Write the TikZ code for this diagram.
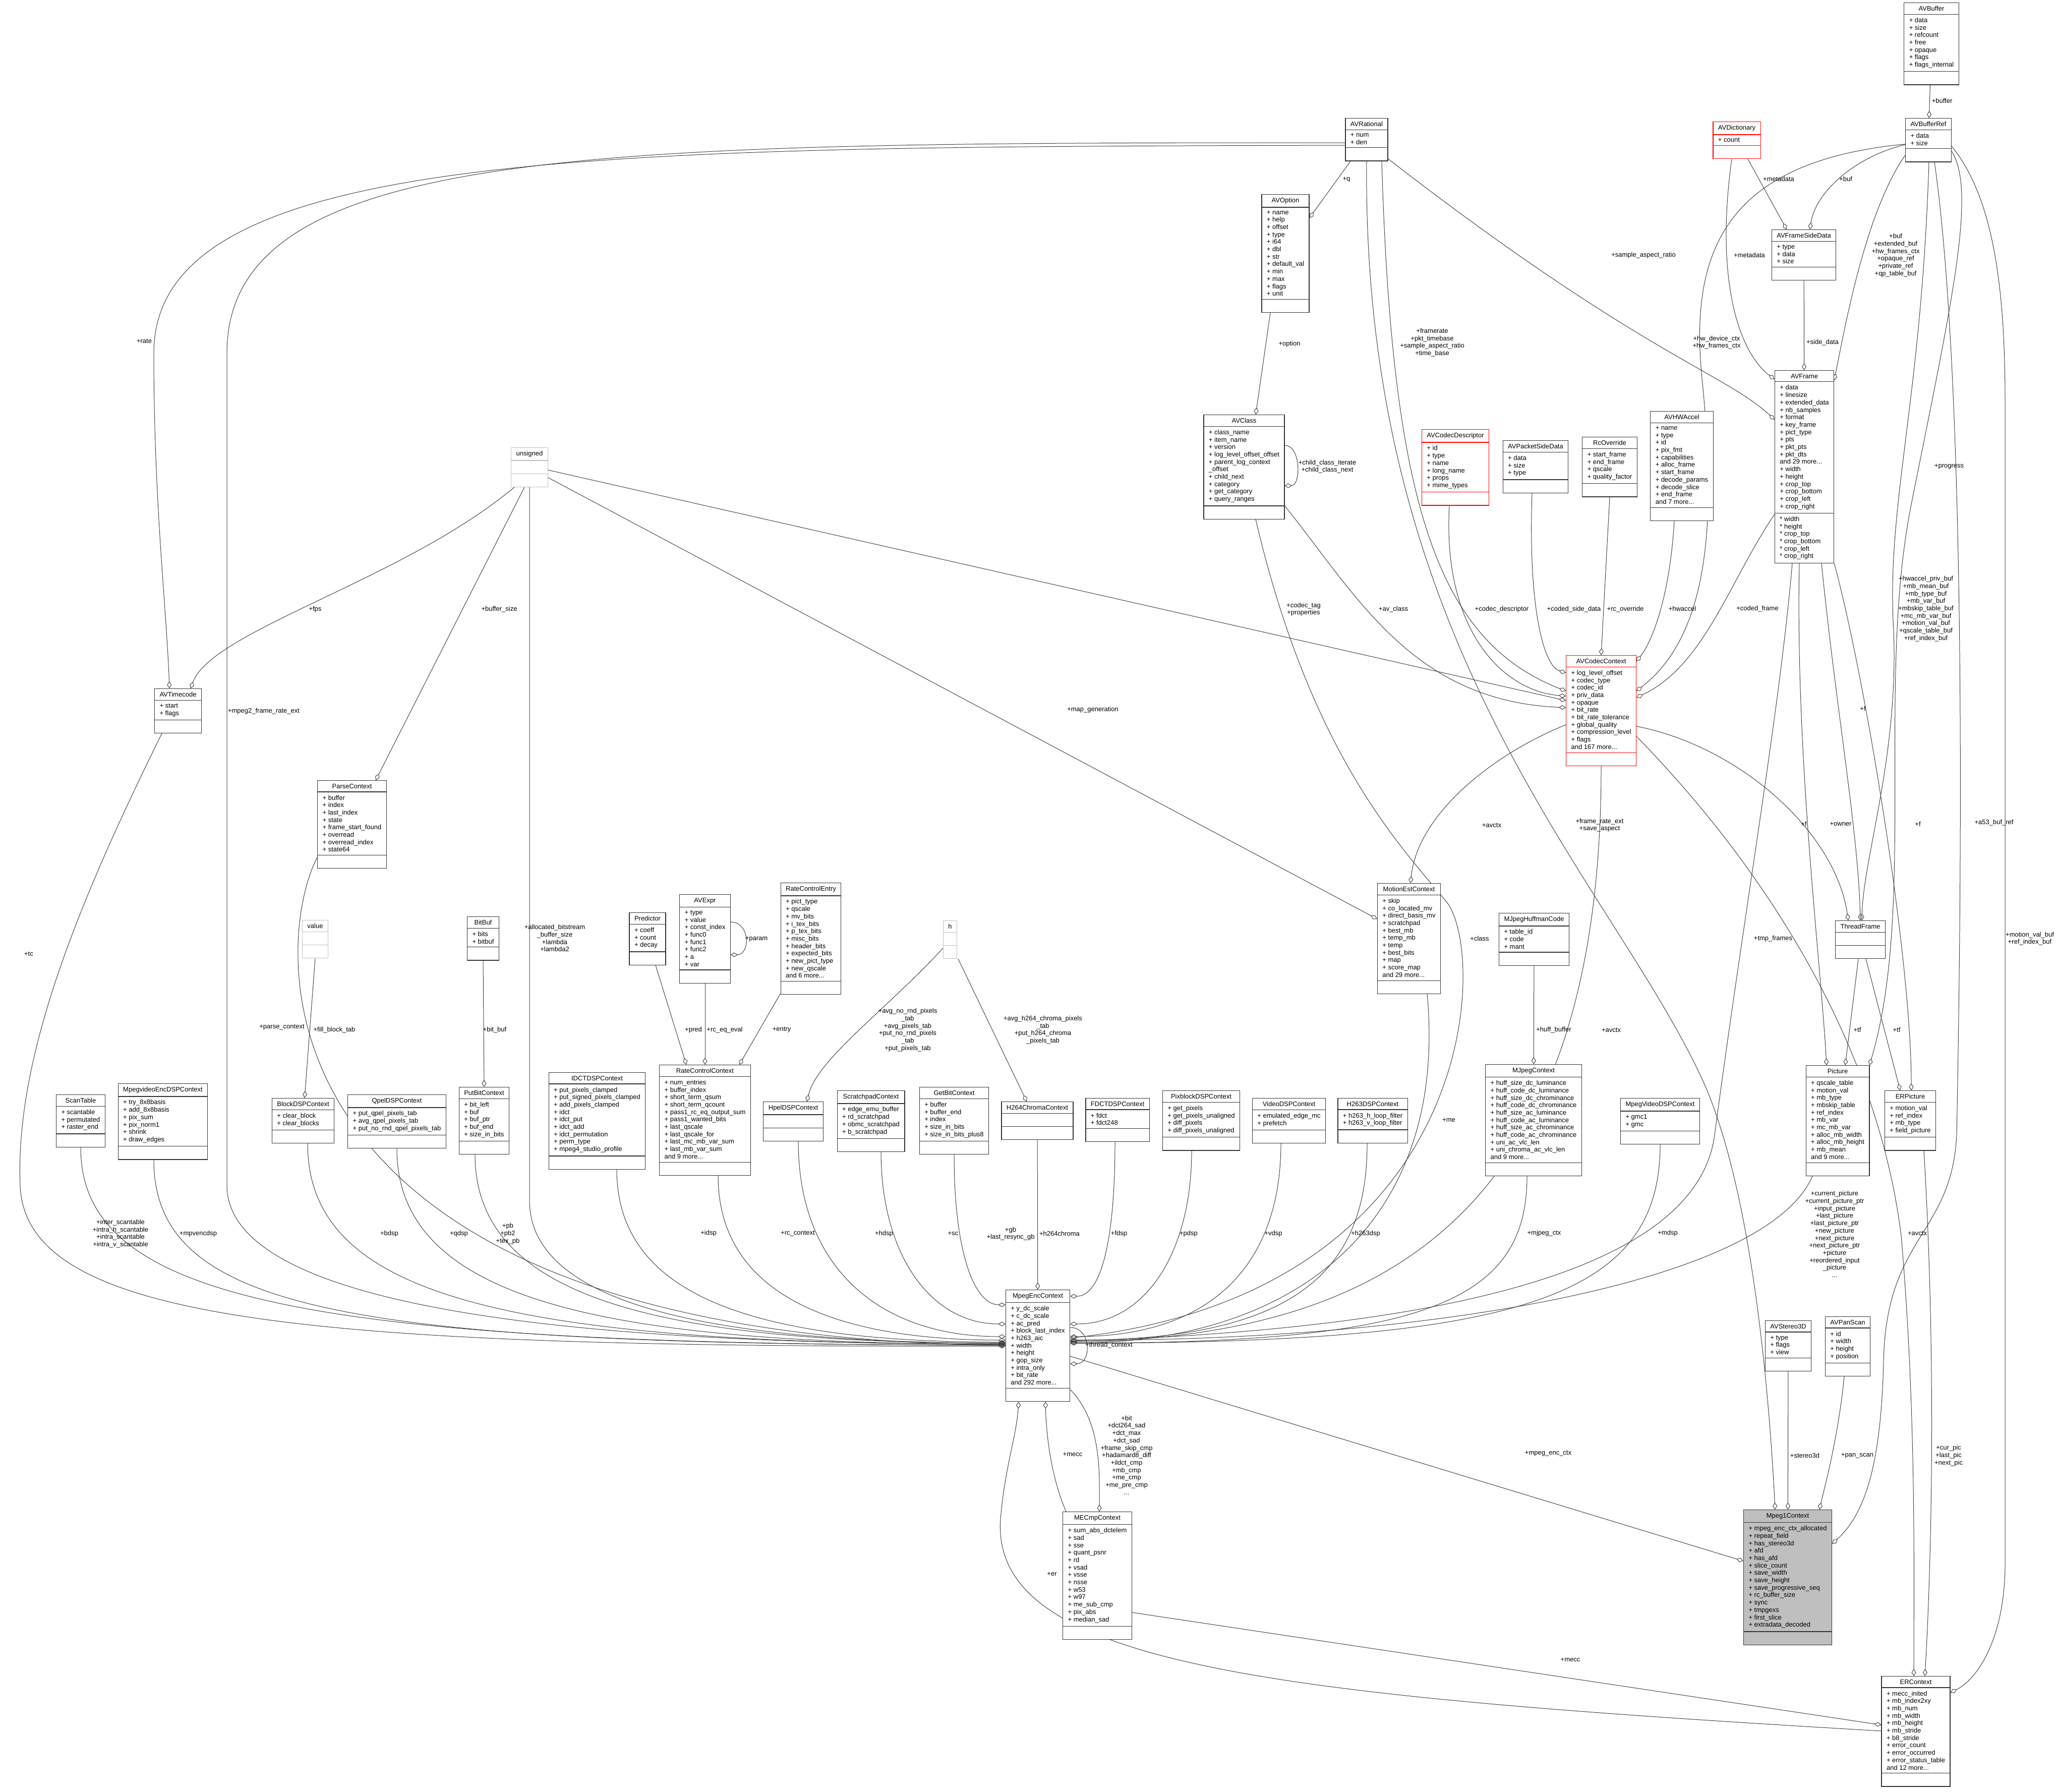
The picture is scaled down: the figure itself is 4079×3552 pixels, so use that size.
\documentclass[tikz,border=0pt]{standalone}
\usepackage{fontspec}
\setmainfont{Liberation Sans}
\usetikzlibrary{arrows.meta, shapes.multipart}
\pgfdeclarelayer{background}
\pgfsetlayers{background,main}
\newcommand{\umlfont}{\fontsize{13}{14.7}\selectfont}
\tikzset{
  cls/.style={rectangle split, rectangle split parts=3,
    rectangle split part align={center,left,left},
    rectangle split empty part height=10pt,
    rectangle split empty part depth=3pt,
    draw=black!80, line width=1.2pt, fill=white, align=left,
    inner xsep=10pt, inner ysep=6pt, font=\umlfont, anchor=north},
  redcls/.style={cls, draw=red},
  extcls/.style={cls, draw=black!25},
  maincls/.style={cls, fill=black!25},
  agg/.style={draw=black!75, line width=1pt,
    -{Diamond[open, length=14pt, width=9pt]}},
  lbl/.style={font=\umlfont, align=center, inner sep=0pt},
}

\begin{document}
\begin{tikzpicture}[x=1pt, y=-1pt]
    \useasboundingbox (0,0) rectangle (4079,3552);

    % buffers and frames
    \node[cls] (avbuffer) at (3830,5) {AVBuffer
        \nodepart{two} + data\\+ size\\+ refcount\\+ free\\+ opaque\\+ flags\\+ flags\_internal
        \nodepart{three}};
    \node[cls] (avbufferref) at (3824,234) {AVBufferRef
        \nodepart{two} + data\\+ size
        \nodepart{three}};
    \node[redcls] (avdict) at (3444,241) {AVDictionary
        \nodepart{two} + count
        \nodepart{three}};
    \node[cls] (sidedata) at (3577,455) {AVFrameSideData
        \nodepart{two} + type\\+ data\\+ size
        \nodepart{three}};
    \node[cls] (avframe) at (3578,734) {AVFrame
        \nodepart{two} + data\\+ linesize\\+ extended\_data\\+ nb\_samples\\+ format\\+ key\_frame\\+ pict\_type\\+ pts\\+ pkt\_pts\\+ pkt\_dts\\and 29 more...\\+ width\\+ height\\+ crop\_top\\+ crop\_bottom\\+ crop\_left\\+ crop\_right
        \nodepart{three} * width\\* height\\* crop\_top\\* crop\_bottom\\* crop\_left\\* crop\_right};

    % codec context and its parts
    \node[cls] (avrational) at (2710,234) {AVRational
        \nodepart{two} + num\\+ den
        \nodepart{three}};
    \node[cls] (avoption) at (2549,385) {AVOption
        \nodepart{two} + name\\+ help\\+ offset\\+ type\\+ i64\\+ dbl\\+ str\\+ default\_val\\+ min\\+ max\\+ flags\\+ unit
        \nodepart{three}};
    \node[cls] (avclass) at (2467,822) {AVClass
        \nodepart{two} + class\_name\\+ item\_name\\+ version\\+ log\_level\_offset\_offset\\+ parent\_log\_context\\\_offset\\+ child\_next\\+ category\\+ get\_category\\+ query\_ranges
        \nodepart{three}};
    \node[redcls] (codecdesc) at (2886,851) {AVCodecDescriptor
        \nodepart{two} + id\\+ type\\+ name\\+ long\_name\\+ props\\+ mime\_types
        \nodepart{three}};
    \node[cls] (pktsidedata) at (3045,873) {AVPacketSideData
        \nodepart{two} + data\\+ size\\+ type
        \nodepart{three}};
    \node[cls] (rcoverride) at (3192,866) {RcOverride
        \nodepart{two} + start\_frame\\+ end\_frame\\+ qscale\\+ quality\_factor
        \nodepart{three}};
    \node[cls] (hwaccel) at (3335,815) {AVHWAccel
        \nodepart{two} + name\\+ type\\+ id\\+ pix\_fmt\\+ capabilities\\+ alloc\_frame\\+ start\_frame\\+ decode\_params\\+ decode\_slice\\+ end\_frame\\and 7 more...
        \nodepart{three}};
    \node[redcls] (codecctx) at (3175,1299) {AVCodecContext
        \nodepart{two} + log\_level\_offset\\+ codec\_type\\+ codec\_id\\+ priv\_data\\+ opaque\\+ bit\_rate\\+ bit\_rate\_tolerance\\+ global\_quality\\+ compression\_level\\+ flags\\and 167 more...
        \nodepart{three}};

    % left half
    \node[extcls] (unsigned) at (1050,887) {unsigned \nodepart{two} \nodepart{three}};
    \node[cls] (avtimecode) at (353,1365) {AVTimecode
        \nodepart{two} + start\\+ flags
        \nodepart{three}};
    \node[cls] (parsectx) at (698,1547) {ParseContext
        \nodepart{two} + buffer\\+ index\\+ last\_index\\+ state\\+ frame\_start\_found\\+ overread\\+ overread\_index\\+ state64
        \nodepart{three}};
    \node[extcls] (value) at (625,1824) {value \nodepart{two} \nodepart{three}};
    \node[cls] (bitbuf) at (958,1817) {BitBuf
        \nodepart{two} + bits\\+ bitbuf
        \nodepart{three}};
    \node[cls] (predictor) at (1284,1809) {Predictor
        \nodepart{two} + coeff\\+ count\\+ decay
        \nodepart{three}};
    \node[cls] (avexpr) at (1398,1773) {AVExpr
        \nodepart{two} + type\\+ value\\+ const\_index\\+ func0\\+ func1\\+ func2\\+ a\\+ var
        \nodepart{three}};
    \node[cls] (rcentry) at (1608,1750) {RateControlEntry
        \nodepart{two} + pict\_type\\+ qscale\\+ mv\_bits\\+ i\_tex\_bits\\+ p\_tex\_bits\\+ misc\_bits\\+ header\_bits\\+ expected\_bits\\+ new\_pict\_type\\+ new\_qscale\\and 6 more...
        \nodepart{three}};
    \node[extcls] (h) at (1884,1825) {h \nodepart{two} \nodepart{three}};
    \node[cls] (rcctx) at (1398,2111) {RateControlContext
        \nodepart{two} + num\_entries\\+ buffer\_index\\+ short\_term\_qsum\\+ short\_term\_qcount\\+ pass1\_rc\_eq\_output\_sum\\+ pass1\_wanted\_bits\\+ last\_qscale\\+ last\_qscale\_for\\+ last\_mc\_mb\_var\_sum\\+ last\_mb\_var\_sum\\and 9 more...
        \nodepart{three}};
    \node[cls] (motionest) at (2794,1751) {MotionEstContext
        \nodepart{two} + skip\\+ co\_located\_mv\\+ direct\_basis\_mv\\+ scratchpad\\+ best\_mb\\+ temp\_mb\\+ temp\\+ best\_bits\\+ map\\+ score\_map\\and 29 more...
        \nodepart{three}};
    \node[cls] (huffcode) at (3042,1810) {MJpegHuffmanCode
        \nodepart{two} + table\_id\\+ code\\+ mant
        \nodepart{three}};

    % row of dsp contexts
    \node[cls] (scantable) at (160,2170) {ScanTable
        \nodepart{two} + scantable\\+ permutated\\+ raster\_end
        \nodepart{three}};
    \node[cls] (mpvencdsp) at (323,2148) {MpegvideoEncDSPContext
        \nodepart{two} + try\_8x8basis\\+ add\_8x8basis\\+ pix\_sum\\+ pix\_norm1\\+ shrink\\+ draw\_edges
        \nodepart{three}};
    \node[cls] (blockdsp) at (601,2177) {BlockDSPContext
        \nodepart{two} + clear\_block\\+ clear\_blocks
        \nodepart{three}};
    \node[cls] (qpeldsp) at (787,2170) {QpelDSPContext
        \nodepart{two} + put\_qpel\_pixels\_tab\\+ avg\_qpel\_pixels\_tab\\+ put\_no\_rnd\_qpel\_pixels\_tab
        \nodepart{three}};
    \node[cls] (putbit) at (960,2155) {PutBitContext
        \nodepart{two} + bit\_left\\+ buf\\+ buf\_ptr\\+ buf\_end\\+ size\_in\_bits
        \nodepart{three}};
    \node[cls] (idctdsp) at (1184,2126) {IDCTDSPContext
        \nodepart{two} + put\_pixels\_clamped\\+ put\_signed\_pixels\_clamped\\+ add\_pixels\_clamped\\+ idct\\+ idct\_put\\+ idct\_add\\+ idct\_permutation\\+ perm\_type\\+ mpeg4\_studio\_profile
        \nodepart{three}};
    \node[cls] (hpeldsp) at (1573,2184) {HpelDSPContext \nodepart{two} \nodepart{three}};
    \node[cls] (scratchpad) at (1727,2162) {ScratchpadContext
        \nodepart{two} + edge\_emu\_buffer\\+ rd\_scratchpad\\+ obmc\_scratchpad\\+ b\_scratchpad
        \nodepart{three}};
    \node[cls] (getbit) at (1892,2155) {GetBitContext
        \nodepart{two} + buffer\\+ buffer\_end\\+ index\\+ size\_in\_bits\\+ size\_in\_bits\_plus8
        \nodepart{three}};
    \node[cls] (h264chroma) at (2057,2184) {H264ChromaContext \nodepart{two} \nodepart{three}};
    \node[cls] (fdctdsp) at (2216,2177) {FDCTDSPContext
        \nodepart{two} + fdct\\+ fdct248
        \nodepart{three}};
    \node[cls] (pixblockdsp) at (2382,2162) {PixblockDSPContext
        \nodepart{two} + get\_pixels\\+ get\_pixels\_unaligned\\+ diff\_pixels\\+ diff\_pixels\_unaligned
        \nodepart{three}};
    \node[cls] (videodsp) at (2556,2177) {VideoDSPContext
        \nodepart{two} + emulated\_edge\_mc\\+ prefetch
        \nodepart{three}};
    \node[cls] (h263dsp) at (2722,2177) {H263DSPContext
        \nodepart{two} + h263\_h\_loop\_filter\\+ h263\_v\_loop\_filter
        \nodepart{three}};
    \node[cls] (mjpeg) at (3041,2110) {MJpegContext
        \nodepart{two} + huff\_size\_dc\_luminance\\+ huff\_code\_dc\_luminance\\+ huff\_size\_dc\_chrominance\\+ huff\_code\_dc\_chrominance\\+ huff\_size\_ac\_luminance\\+ huff\_code\_ac\_luminance\\+ huff\_size\_ac\_chrominance\\+ huff\_code\_ac\_chrominance\\+ uni\_ac\_vlc\_len\\+ uni\_chroma\_ac\_vlc\_len\\and 9 more...
        \nodepart{three}};
    \node[cls] (mpegvideodsp) at (3292,2177) {MpegVideoDSPContext
        \nodepart{two} + gmc1\\+ gmc
        \nodepart{three}};
    \node[cls] (threadframe) at (3689,1825) {ThreadFrame \nodepart{two} \nodepart{three}};
    \node[cls] (picture) at (3644,2112) {Picture
        \nodepart{two} + qscale\_table\\+ motion\_val\\+ mb\_type\\+ mbskip\_table\\+ ref\_index\\+ mb\_var\\+ mc\_mb\_var\\+ alloc\_mb\_width\\+ alloc\_mb\_height\\+ mb\_mean\\and 9 more...
        \nodepart{three}};
    \node[cls] (erpicture) at (3788,2162) {ERPicture
        \nodepart{two} + motion\_val\\+ ref\_index\\+ mb\_type\\+ field\_picture
        \nodepart{three}};

    % encoder
    \node[cls] (mpegenc) at (2058,2557) {MpegEncContext
        \nodepart{two} + y\_dc\_scale\\+ c\_dc\_scale\\+ ac\_pred\\+ block\_last\_index\\+ h263\_aic\\+ width\\+ height\\+ gop\_size\\+ intra\_only\\+ bit\_rate\\and 292 more...
        \nodepart{three}};
    \node[cls] (mecmp) at (2176,2997) {MECmpContext
        \nodepart{two} + sum\_abs\_dctelem\\+ sad\\+ sse\\+ quant\_psnr\\+ rd\\+ vsad\\+ vsse\\+ nsse\\+ w53\\+ w97\\+ me\_sub\_cmp\\+ pix\_abs\\+ median\_sad
        \nodepart{three}};
    \node[cls] (stereo3d) at (3546,2618) {AVStereo3D
        \nodepart{two} + type\\+ flags\\+ view
        \nodepart{three}};
    \node[cls] (panscan) at (3664,2610) {AVPanScan
        \nodepart{two} + id\\+ width\\+ height\\+ position
        \nodepart{three}};
    \node[maincls] (mpeg1) at (3545,2993) {Mpeg1Context
        \nodepart{two} + mpeg\_enc\_ctx\_allocated\\+ repeat\_field\\+ has\_stereo3d\\+ afd\\+ has\_afd\\+ slice\_count\\+ save\_width\\+ save\_height\\+ save\_progressive\_seq\\+ rc\_buffer\_size\\+ sync\\+ tmpgexs\\+ first\_slice\\+ extradata\_decoded
        \nodepart{three}};
    \node[cls] (ercontext) at (3799,3323) {ERContext
        \nodepart{two} + mecc\_inited\\+ mb\_index2xy\\+ mb\_num\\+ mb\_width\\+ mb\_height\\+ mb\_stride\\+ b8\_stride\\+ error\_count\\+ error\_occurred\\+ error\_status\_table\\and 12 more...
        \nodepart{three}};

    % labels
    \node[lbl] (l-buffer) at (3851,200) {+buffer};
    \node[lbl] (l-sdmeta) at (3527,355) {+metadata};
    \node[lbl] (l-sdbuf) at (3660,355) {+buf};
    \node[lbl] (l-frmeta) at (3469,506) {+metadata};
    \node[lbl] (l-frbuf) at (3759,506) {+buf\\+extended\_buf\\+hw\_frames\_ctx\\+opaque\_ref\\+private\_ref\\+qp\_table\_buf};
    \node[lbl] (l-sidedata) at (3614,679) {+side\_data};
    \node[lbl] (l-frsar) at (3259,506) {+sample\_aspect\_ratio};
    \node[lbl] (l-q) at (2670,356) {+q};
    \node[lbl] (l-option) at (2557,682) {+option};
    \node[lbl] (l-child) at (2632,925) {+child\_class\_iterate\\+child\_class\_next};
    \node[lbl] (l-avclass) at (2763,1208) {+av\_class};
    \node[lbl] (l-framerate) at (2840,679) {+framerate\\+pkt\_timebase\\+sample\_aspect\_ratio\\+time\_base};
    \node[lbl] (l-fre) at (3172,1636) {+frame\_rate\_ext\\+save\_aspect};
    \node[lbl] (l-codectag) at (2585,1208) {+codec\_tag\\+properties};
    \node[lbl] (l-class) at (2934,1861) {+class};
    \node[lbl] (l-desc) at (2978,1208) {+codec\_descriptor};
    \node[lbl] (l-sided) at (3121,1208) {+coded\_side\_data};
    \node[lbl] (l-rcov) at (3223,1208) {+rc\_override};
    \node[lbl] (l-hwaccel) at (3336,1207) {+hwaccel};
    \node[lbl] (l-coded) at (3485,1207) {+coded\_frame};
    \node[lbl] (l-hwdev) at (3404,679) {+hw\_device\_ctx\\+hw\_frames\_ctx};
    \node[lbl] (l-meavctx) at (2958,1636) {+avctx};
    \node[lbl] (l-avctx) at (3195,2042) {+avctx};
    \node[lbl] (l-owner) at (3650,1634) {+owner};
    \node[lbl] (l-eravctx) at (3802,2445) {+avctx};
    \node[lbl] (l-picf) at (3577,1634) {+f};
    \node[lbl] (l-tff) at (3694,1405) {+f};
    \node[lbl] (l-erf) at (3803,1634) {+f};
    \node[lbl] (l-tmp) at (3516,1861) {+tmp\_frames};
    \node[lbl] (l-progress) at (3865,925) {+progress};
    \node[lbl] (l-picbuf) at (3819,1207) {+hwaccel\_priv\_buf\\+mb\_mean\_buf\\+mb\_type\_buf\\+mb\_var\_buf\\+mbskip\_table\_buf\\+mc\_mb\_var\_buf\\+motion\_val\_buf\\+qscale\_table\_buf\\+ref\_index\_buf};
    \node[lbl] (l-a53) at (3954,1631) {+a53\_buf\_ref};
    \node[lbl] (l-erbuf) at (4025,1861) {+motion\_val\_buf\\+ref\_index\_buf};
    \node[lbl] (l-huff) at (3081,2042) {+huff\_buffer};
    \node[lbl] (l-pictf) at (3683,2042) {+tf};
    \node[lbl] (l-ertf) at (3761,2042) {+tf};
    \node[lbl] (l-curpic) at (3864,2886) {+cur\_pic\\+last\_pic\\+next\_pic};
    \node[lbl] (l-ermecc) at (3114,3291) {+mecc};
    \node[lbl] (l-er) at (2086,3121) {+er};
    \node[lbl] (l-mecc) at (2127,2884) {+mecc};
    \node[lbl] (l-cmp) at (2234,2885) {+bit\\+dct264\_sad\\+dct\_max\\+dct\_sad\\+frame\_skip\_cmp\\+hadamard8\_diff\\+ildct\_cmp\\+mb\_cmp\\+me\_cmp\\+me\_pre\_cmp\\...};
    \node[lbl] (l-mpegctx) at (3070,2882) {+mpeg\_enc\_ctx};
    \node[lbl] (l-thread) at (2199,2667) {+thread\_context};
    \node[lbl] (l-stereo) at (3579,2886) {+stereo3d};
    \node[lbl] (l-panscan) at (3683,2886) {+pan\_scan};
    \node[lbl] (l-pics) at (3638,2447) {+current\_picture\\+current\_picture\_ptr\\+input\_picture\\+last\_picture\\+last\_picture\_ptr\\+new\_picture\\+next\_picture\\+next\_picture\_ptr\\+picture\\+reordered\_input\\\_picture\\...};
    \node[lbl] (l-tc) at (57,1891) {+tc};
    \node[lbl] (l-mpeg2) at (523,1410) {+mpeg2\_frame\_rate\_ext};
    \node[lbl] (l-rate) at (286,676) {+rate};
    \node[lbl] (l-fps) at (625,1208) {+fps};
    \node[lbl] (l-bufsize) at (990,1208) {+buffer\_size};
    \node[lbl] (l-mapgen) at (2167,1407) {+map\_generation};
    \node[lbl] (l-lambda) at (1100,1860) {+allocated\_bitstream\\\_buffer\_size\\+lambda\\+lambda2};
    \node[lbl] (l-parse) at (559,2037) {+parse\_context};
    \node[lbl] (l-fill) at (663,2042) {+fill\_block\_tab};
    \node[lbl] (l-bitbuf) at (981,2042) {+bit\_buf};
    \node[lbl] (l-scan) at (239,2446) {+inter\_scantable\\+intra\_h\_scantable\\+intra\_scantable\\+intra\_v\_scantable};
    \node[lbl] (l-mpvenc) at (393,2446) {+mpvencdsp};
    \node[lbl] (l-bdsp) at (772,2446) {+bdsp};
    \node[lbl] (l-qdsp) at (910,2446) {+qdsp};
    \node[lbl] (l-pb) at (1007,2446) {+pb\\+pb2\\+tex\_pb};
    \node[lbl] (l-idsp) at (1405,2445) {+idsp};
    \node[lbl] (l-rcctx) at (1582,2446) {+rc\_context};
    \node[lbl] (l-hdsp) at (1753,2446) {+hdsp};
    \node[lbl] (l-sc) at (1890,2446) {+sc};
    \node[lbl] (l-gb) at (2004,2446) {+gb\\+last\_resync\_gb};
    \node[lbl] (l-h264) at (2101,2446) {+h264chroma};
    \node[lbl] (l-fdsp) at (2219,2446) {+fdsp};
    \node[lbl] (l-pdsp) at (2357,2446) {+pdsp};
    \node[lbl] (l-vdsp) at (2525,2446) {+vdsp};
    \node[lbl] (l-h263) at (2708,2446) {+h263dsp};
    \node[lbl] (l-me) at (2873,2221) {+me};
    \node[lbl] (l-mjpeg) at (3062,2445) {+mjpeg\_ctx};
    \node[lbl] (l-mdsp) at (3307,2445) {+mdsp};
    \node[lbl] (l-pred) at (1375,2042) {+pred};
    \node[lbl] (l-eval) at (1437,2042) {+rc\_eq\_eval};
    \node[lbl] (l-entry) at (1550,2042) {+entry};
    \node[lbl] (l-param) at (1500,1862) {+param};
    \node[lbl] (l-hpel) at (1800,2042) {+avg\_no\_rnd\_pixels\\\_tab\\+avg\_pixels\_tab\\+put\_no\_rnd\_pixels\\\_tab\\+put\_pixels\_tab};
    \node[lbl] (l-chroma) at (2068,2042) {+avg\_h264\_chroma\_pixels\\\_tab\\+put\_h264\_chroma\\\_pixels\_tab};

    \begin{pgfonlayer}{background}
    \fill[white] (0,0) rectangle (4079,3552);
    % top right
    \draw[agg] (avbuffer) -- (avbufferref);
    \draw[agg] ([xshift=22pt]avdict.south) -- ([xshift=-34pt]sidedata.north);
    \draw[agg] ([yshift=-9pt]avbufferref.west) .. controls (3680,310) and (3600,380) .. ([xshift=12pt]sidedata.north);
    \draw[agg] ([xshift=-10pt]avdict.south) .. controls (3400,560) and (3450,700) .. ([yshift=-18pt]avframe.north west);
    \draw[agg] ([yshift=-30pt]avbufferref.west) .. controls (3700,420) and (3660,640) .. ([yshift=-20pt]avframe.north east);
    \draw[agg] (sidedata) -- (avframe);
    \draw[agg] ([yshift=-81pt]avrational.north east) .. controls (3250,700) and (3420,740) .. ([yshift=-98pt]avframe.north west);
    \draw[agg] ([xshift=-32pt]avrational.south) -- ([yshift=-47pt]avoption.north east);
    \draw[agg] ([xshift=-30pt]avoption.south) -- ([xshift=23pt]avclass.north);
    \draw[agg] ([yshift=-61pt]avclass.north east) .. controls (2580,883) and (2580,963) .. ([yshift=-141pt]avclass.north east);
    % into the codec context
    \draw[agg] ([yshift=-181pt]avclass.north east) .. controls (2690,1180) and (2800,1390) .. ([yshift=-104pt]codecctx.north west);
    \draw[agg] ([xshift=30pt]avrational.south) .. controls (2760,1000) and (2850,1270) .. ([yshift=-71pt]codecctx.north west);
    \draw[agg] ([yshift=-45pt]unsigned.north east) -- ([yshift=-90pt]codecctx.north west);
    \draw[agg] ([xshift=-12pt]codecdesc.south) .. controls (2860,1250) and (2980,1370) .. ([yshift=-81pt]codecctx.north west);
    \draw[agg] ([xshift=-7pt]pktsidedata.south) .. controls (3030,1200) and (3060,1320) .. ([yshift=-35pt]codecctx.north west);
    \draw[agg] (rcoverride.south) -- (codecctx.north);
    \draw[agg] ([xshift=-15pt]hwaccel.south) .. controls (3310,1200) and (3270,1280) .. ([yshift=-12pt]codecctx.north east);
    \draw[agg] ([yshift=-286pt]avframe.north west) .. controls (3430,1150) and (3380,1320) .. ([yshift=-84pt]codecctx.north east);
    \draw[agg] ([yshift=-8pt]avbufferref.west) .. controls (3420,320) and (3350,500) .. (3375,750) .. controls (3400,1000) and (3400,1250) .. ([yshift=-71pt]codecctx.north east);
    % out of the codec context
    \draw[agg] ([yshift=-138pt]codecctx.north west) .. controls (2950,1500) and (2810,1620) .. ([xshift=3pt]motionest.north);
    \draw[agg] (codecctx.south) .. controls (3176,2450) and (2700,2650) .. ([yshift=-104pt]mpegenc.north east);
    \draw[agg] ([yshift=-141pt]codecctx.north east) .. controls (3450,1480) and (3640,1650) .. ([xshift=-24pt]threadframe.north);
    \draw[agg] ([yshift=-161pt]codecctx.north east) .. controls (3480,1700) and (3720,2050) .. (3770,2450) .. controls (3800,2800) and (3795,3100) .. ([xshift=-4pt]ercontext.north);
    % frames and pictures
    \draw[agg] ([xshift=-10pt]avframe.south) .. controls (3560,1500) and (3610,1900) .. ([xshift=-22pt]picture.north);
    \draw[agg] ([xshift=34pt]avframe.south) .. controls (3640,1400) and (3685,1650) .. (threadframe.north);
    \draw[agg] (avframe.south east) .. controls (3700,1350) and (3790,1900) .. ([xshift=2pt]erpicture.north);
    \draw[agg] ([xshift=-24pt]avframe.south) .. controls (3530,1400) and (3460,1800) .. (3400,2250) .. controls (3360,2560) and (2700,2640) .. ([yshift=-102pt]mpegenc.north east);
    \draw[agg] ([xshift=1pt]avbufferref.south) .. controls (3810,800) and (3740,1000) .. (3755,1250) .. controls (3765,1500) and (3695,1700) .. ([xshift=3pt]threadframe.north);
    \draw[agg] ([yshift=-66pt]avbufferref.north east) .. controls (3920,380) and (3870,600) .. (3790,1000) .. controls (3720,1350) and (3800,1800) .. ([xshift=63pt]picture.north);
    \draw[agg] ([xshift=12pt]avbufferref.south) .. controls (3890,700) and (3895,1500) .. (3880,2250) .. controls (3870,2450) and (3740,2450) .. (3735,2700) .. controls (3730,2900) and (3700,3000) .. ([yshift=-68pt]mpeg1.north east);
    \draw[agg] ([yshift=-56pt]avbufferref.north east) .. controls (3960,400) and (3976,600) .. (3976,800) -- (3976,3100) .. controls (3976,3250) and (3920,3330) .. ([yshift=-33pt]ercontext.north east);
    \draw[agg] (huffcode) -- (mjpeg);
    \draw[agg] ([xshift=-4pt]threadframe.south) -- ([xshift=15pt]picture.north);
    \draw[agg] ([xshift=11pt]threadframe.south) -- ([xshift=-20pt]erpicture.north);
    \draw[agg] ([xshift=27pt]erpicture.south) .. controls (3840,2700) and (3830,3100) .. ([xshift=18pt]ercontext.north);
    % around the encoder
    \draw[agg] ([yshift=-200pt]mecmp.north east) -- ([yshift=-97pt]ercontext.north west);
    \draw[agg] ([yshift=-109pt]ercontext.north west) .. controls (2500,3360) and (1950,3300) .. (1985,3000) .. controls (1995,2900) and (2015,2850) .. ([xshift=-38pt]mpegenc.south);
    \draw[agg] ([xshift=-62pt]mecmp.north) .. controls (2085,2930) and (2075,2850) .. ([xshift=15pt]mpegenc.south);
    \draw[agg] ([yshift=-198pt]mpegenc.north east) .. controls (2185,2820) and (2180,2920) .. ([xshift=4pt]mecmp.north);
    \draw[agg] ([yshift=-132pt]mpegenc.north east) -- ([yshift=-102pt]mpeg1.north west);
    \draw[agg] ([yshift=-75pt]mpegenc.north east) .. controls (2165,2632) and (2165,2704) .. ([yshift=-147pt]mpegenc.north east);
    \draw[agg] (stereo3d) -- (mpeg1);
    \draw[agg] ([xshift=-7pt]panscan.south) .. controls (3645,2850) and (3620,2940) .. ([xshift=63pt]mpeg1.north);
    \draw[agg] ([xshift=-50pt]picture.south) .. controls (3500,2550) and (2800,2660) .. ([yshift=-100pt]mpegenc.north east);
    \draw[agg] (avrational.south) .. controls (2700,1300) and (3200,1750) .. (3380,2150) .. controls (3480,2380) and (3510,2800) .. ([xshift=-25pt]mpeg1.north);
    \draw[agg] ([xshift=23pt]avclass.south) .. controls (2600,1500) and (2780,1680) .. (2870,1790) .. controls (2950,1900) and (2930,2560) .. ([yshift=-96pt]mpegenc.north east);
    % left side
    \draw[agg] ([xshift=-32pt]avtimecode.south) .. controls (150,1800) and (30,2100) .. (40,2350) .. controls (50,2620) and (600,2672) .. ([yshift=-112pt]mpegenc.north west);
    \draw[agg] ([yshift=-49pt]avrational.north west) .. controls (1200,283) and (450,285) .. (450,700) -- (450,2350) .. controls (450,2620) and (1300,2665) .. ([yshift=-108pt]mpegenc.north west);
    \draw[agg] ([yshift=-54pt]avrational.north west) .. controls (1200,292) and (305,292) .. (305,700) .. controls (305,1000) and (330,1200) .. ([xshift=-17pt]avtimecode.north);
    \draw[agg] ([xshift=-30pt]unsigned.south) .. controls (800,1150) and (420,1250) .. ([xshift=25pt]avtimecode.north);
    \draw[agg] ([xshift=-10pt]unsigned.south) -- ([xshift=47pt]parsectx.north);
    \draw[agg] ([yshift=-60pt]unsigned.north east) -- ([yshift=-71pt]motionest.north west);
    \draw[agg] (unsigned.south) -- (1050,2380) .. controls (1050,2610) and (1500,2662) .. ([yshift=-106pt]mpegenc.north west);
    \draw[agg] ([yshift=-153pt]parsectx.north west) .. controls (540,1870) and (480,2650) .. ([yshift=-110pt]mpegenc.north west);
    \draw[agg] (value.south) -- ([xshift=3pt]blockdsp.north);
    \draw[agg] (bitbuf.south) -- (putbit.north);
    % row of dsp contexts
    \draw[agg] (scantable.south) .. controls +(0,300) and +(-1400,0) .. ([yshift=-110pt]mpegenc.north west);
    \draw[agg] ([xshift=-18pt]mpvencdsp.south) .. controls +(0,300) and +(-1300,0) .. ([yshift=-110pt]mpegenc.north west);
    \draw[agg] ([xshift=9pt]blockdsp.south) .. controls +(0,300) and +(-1000,0) .. ([yshift=-108pt]mpegenc.north west);
    \draw[agg] (qpeldsp.south) .. controls +(0,300) and +(-800,0) .. ([yshift=-108pt]mpegenc.north west);
    \draw[agg] ([xshift=-18pt]putbit.south) .. controls +(0,280) and +(-700,0) .. ([yshift=-106pt]mpegenc.north west);
    \draw[agg] ([xshift=39pt]idctdsp.south) .. controls +(0,250) and +(-500,0) .. ([yshift=-104pt]mpegenc.north west);
    \draw[agg] ([xshift=26pt]rcctx.south) .. controls +(0,230) and +(-350,0) .. ([yshift=-100pt]mpegenc.north west);
    \draw[agg] ([xshift=10pt]hpeldsp.south) .. controls +(0,250) and +(-250,0) .. ([yshift=-93pt]mpegenc.north west);
    \draw[agg] ([xshift=20pt]scratchpad.south) .. controls +(0,200) and +(-150,0) .. ([yshift=-68pt]mpegenc.north west);
    \draw[agg] (getbit.south) .. controls +(0,200) and +(-60,0) .. ([yshift=-30pt]mpegenc.north west);
    \draw[agg] (h264chroma) -- (mpegenc);
    \draw[agg] ([xshift=-5pt]fdctdsp.south) .. controls +(0,200) and +(60,0) .. ([yshift=-13pt]mpegenc.north east);
    \draw[agg] ([xshift=-19pt]pixblockdsp.south) .. controls +(0,200) and +(150,0) .. ([yshift=-68pt]mpegenc.north east);
    \draw[agg] ([xshift=-16pt]videodsp.south) .. controls +(0,220) and +(300,0) .. ([yshift=-93pt]mpegenc.north east);
    \draw[agg] ([xshift=-11pt]h263dsp.south) .. controls +(0,250) and +(450,0) .. ([yshift=-100pt]mpegenc.north east);
    \draw[agg] ([xshift=36pt]motionest.south) .. controls (2870,2400) and (2600,2660) .. ([yshift=-106pt]mpegenc.north east);
    \draw[agg] ([xshift=-13pt]mjpeg.south) .. controls +(0,250) and +(700,0) .. ([yshift=-106pt]mpegenc.north east);
    \draw[agg] (mpegvideodsp.south) .. controls +(0,300) and +(900,0) .. ([yshift=-106pt]mpegenc.north east);
    % rate control and h
    \draw[agg] ([xshift=16pt]predictor.south) -- ([xshift=-37pt]rcctx.north);
    \draw[agg] (avexpr) -- (rcctx);
    \draw[agg] ([yshift=-220pt]rcentry.north west) -- ([xshift=68pt]rcctx.north);
    \draw[agg] ([yshift=-55pt]avexpr.north east) .. controls (1488,1828) and (1488,1893) .. ([yshift=-120pt]avexpr.north east);
    \draw[agg] ([yshift=-55pt]h.north west) .. controls (1760,2000) and (1620,2100) .. ([xshift=27pt]hpeldsp.north);
    \draw[agg] ([xshift=16pt]h.south) -- ([xshift=-21pt]h264chroma.north);
    \end{pgfonlayer}

\end{tikzpicture}
\end{document}
